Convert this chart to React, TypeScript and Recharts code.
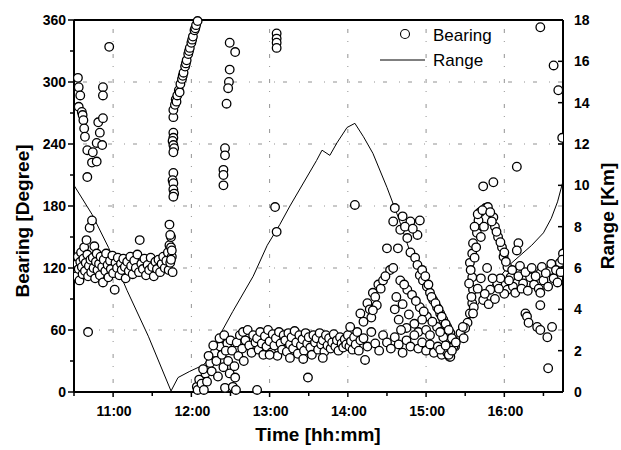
import { ComposedChart, Line, ReferenceLine, Scatter, XAxis, YAxis } from "recharts"

// time in decimal hours, bearing in degrees, range in km
const timeTicks = [10.5, 11, 11.5, 12, 12.5, 13, 13.5, 14, 14.5, 15, 15.5, 16, 16.5]
const timeLabels = ["11:00", "12:00", "13:00", "14:00", "15:00", "16:00"]
const bearingTicks = [0, 30, 60, 90, 120, 150, 180, 210, 240, 270, 300, 330, 360]
const rangeTicks = [0, 1, 2, 3, 4, 5, 6, 7, 8, 9, 10, 11, 12, 13, 14, 15, 16, 17, 18]
const gridBearing = [60, 120, 180, 240, 300]
const gridTimes = [11, 12, 13, 14, 15, 16]

const rangeTimes = [10.5, 10.73, 10.94, 11.18, 11.45, 11.74, 11.83, 11.98, 12.15, 12.28, 12.37, 12.53, 12.79, 12.97, 13.13, 13.26, 13.6, 13.67, 13.77, 13.86, 13.99, 14.09, 14.2, 14.32, 14.5, 14.64, 14.83, 15.14, 15.3, 15.42, 15.55, 15.75, 15.95, 16.08, 16.2, 16.35, 16.5, 16.6, 16.68, 16.75]
const rangeKm = [10.0, 8.6, 7.0, 4.9, 2.7, 0.05, 0.7, 1.0, 1.3, 1.8, 2.8, 3.9, 5.6, 7.1, 8.1, 9.0, 11.2, 11.7, 11.45, 12.05, 12.8, 13.0, 12.35, 11.55, 9.9, 8.5, 6.4, 4.1, 3.1, 2.4, 3.5, 4.8, 5.6, 6.2, 6.6, 7.1, 7.7, 8.4, 9.2, 10.2]

const bearingEarlyBand = [
  [10.51, 118], [10.52, 128], [10.53, 112], [10.54, 124], [10.55, 131], [10.56, 119], [10.57, 108], [10.58, 126], [10.59, 135], [10.6, 121],
  [10.61, 114], [10.62, 129], [10.63, 140], [10.64, 117], [10.65, 125], [10.66, 147], [10.67, 133], [10.68, 112], [10.69, 122], [10.7, 159],
  [10.71, 128], [10.72, 116], [10.73, 166], [10.74, 130], [10.75, 120], [10.76, 141], [10.77, 110], [10.78, 126], [10.79, 134], [10.8, 118],
  [10.82, 124], [10.83, 113], [10.84, 131], [10.86, 121], [10.87, 106], [10.88, 128], [10.9, 117], [10.91, 134], [10.93, 123], [10.94, 111],
  [10.96, 127], [10.97, 119], [10.99, 132], [11.0, 115], [11.02, 99], [11.03, 125], [11.05, 120], [11.06, 130], [11.08, 113], [11.1, 124],
  [11.11, 118], [11.13, 129], [11.15, 121], [11.16, 110], [11.18, 126], [11.2, 117], [11.22, 131], [11.23, 122], [11.25, 114], [11.27, 127],
  [11.29, 120], [11.31, 133], [11.33, 116], [11.34, 147], [11.36, 124], [11.38, 119], [11.4, 129], [11.42, 113], [11.44, 123], [11.46, 118],
  [11.48, 130], [11.5, 121], [11.52, 112], [11.54, 126], [11.56, 119], [11.58, 128], [11.6, 116], [11.62, 124], [11.64, 131], [11.66, 120],
  [11.68, 127], [11.7, 135], [11.71, 118], [11.72, 142], [11.73, 125], [11.74, 150], [11.75, 131],
  [11.72, 162], [11.73, 152], [11.74, 140], [11.75, 137], [11.76, 116], [11.74, 128],
]

const bearingEarlyHigh = [
  [10.55, 304], [10.56, 295], [10.58, 287], [10.56, 276], [10.6, 271], [10.61, 268], [10.62, 263], [10.63, 255], [10.64, 247],
  [10.67, 234], [10.74, 232], [10.73, 222], [10.79, 223], [10.67, 208], [10.81, 261], [10.87, 265], [10.83, 251], [10.79, 241],
  [10.86, 239], [10.87, 295], [10.87, 287], [10.95, 334], [10.68, 58],
]

const bearingClimb = [
  [11.77, 266], [11.77, 251], [11.77, 246], [11.76, 243], [11.77, 239], [11.78, 236], [11.77, 232], [11.77, 212], [11.76, 205],
  [11.77, 202], [11.77, 196], [11.78, 192], [11.77, 189],
  [11.77, 273], [11.79, 278], [11.8, 283], [11.81, 281], [11.82, 287], [11.84, 292], [11.85, 290], [11.86, 298], [11.88, 303],
  [11.89, 306], [11.9, 309], [11.92, 315], [11.93, 318], [11.94, 321], [11.96, 327], [11.97, 330], [11.98, 333], [12.0, 338],
  [12.01, 341], [12.02, 344], [12.04, 350], [12.05, 352], [12.06, 355], [12.08, 359],
]

const bearingColumns = [
  [12.49, 338], [12.56, 329], [12.49, 312], [12.48, 300], [12.47, 294], [12.45, 279], [12.43, 236], [12.43, 229], [12.41, 215],
  [12.41, 210], [12.41, 200],
  [13.09, 347], [13.09, 342], [13.09, 338], [13.09, 333], [13.07, 179], [13.09, 155],
  [13.49, 14], [14.09, 181], [14.6, 178],
]

const bearingMidBand = [
  [12.07, 5], [12.1, 12], [12.18, 18], [12.24, 28], [12.3, 38], [12.37, 44], [12.46, 47], [12.41, 24], [12.49, 18], [12.56, 14],
  [12.43, 4], [12.53, 5], [12.84, 2], [12.08, 2], [12.13, 8], [12.15, 22], [12.2, 10], [12.22, 35], [12.26, 20], [12.28, 45],
  [12.32, 30], [12.34, 15], [12.36, 52], [12.39, 36], [12.42, 55], [12.44, 40], [12.47, 30], [12.5, 50], [12.52, 40], [12.55, 25],
  [12.58, 48], [12.6, 35], [12.62, 55], [12.65, 42], [12.66, 58], [12.67, 30], [12.69, 50], [12.72, 60], [12.74, 45], [12.77, 38],
  [12.79, 55], [12.82, 48], [12.16, 2], [12.57, 2],
  [12.84, 52], [12.86, 41], [12.88, 58], [12.9, 47], [12.92, 36], [12.94, 54], [12.96, 44], [12.98, 60], [13.0, 49], [13.02, 38],
  [13.04, 56], [13.06, 45], [13.08, 52], [13.1, 35], [13.12, 58], [13.14, 47], [13.16, 41], [13.18, 55], [13.2, 50], [13.22, 39],
  [13.24, 57], [13.26, 46], [13.28, 53], [13.3, 42], [13.32, 59], [13.34, 48], [13.36, 37], [13.38, 55], [13.4, 45], [13.42, 51],
  [13.44, 40], [13.46, 57], [13.48, 47], [13.5, 53], [13.52, 43], [13.54, 36], [13.56, 55], [13.58, 48], [13.6, 52], [13.62, 41],
  [13.64, 57], [13.66, 46], [13.68, 50], [13.7, 39], [13.72, 55], [13.74, 45], [13.76, 52], [13.78, 42], [13.8, 48], [13.82, 56],
  [13.84, 44], [13.86, 50], [13.88, 40], [13.9, 53], [13.92, 47], [13.94, 43], [13.96, 51], [13.98, 46], [14.0, 55], [14.02, 44],
  [14.04, 49], [14.06, 41], [14.08, 53], [14.1, 46], [14.12, 58], [14.14, 40], [14.16, 50],
  [13.26, 33], [13.43, 32], [13.68, 33], [14.22, 31], [13.0, 36],
]

const bearingLoop = [
  [14.58, 165], [14.8, 165], [14.92, 166], [14.67, 157], [14.89, 152], [14.76, 149], [14.5, 139], [14.64, 139], [14.8, 135],
  [14.86, 130], [14.89, 123], [14.92, 113], [14.96, 108], [15.01, 102], [15.05, 96], [15.09, 89], [15.14, 82], [15.18, 76],
  [15.22, 70], [15.27, 63], [15.31, 57], [15.35, 50], [15.37, 44],
  [14.7, 170], [14.73, 160], [14.83, 158], [14.95, 118], [14.99, 112], [15.03, 104], [15.07, 92], [15.12, 86], [15.16, 80],
  [15.2, 73], [15.25, 66], [15.29, 60], [15.33, 52],
  [14.03, 63], [14.16, 76], [14.25, 86], [14.32, 96], [14.39, 104], [14.45, 108], [14.54, 118], [14.58, 120], [14.2, 68],
  [14.28, 80], [14.35, 92], [14.42, 100], [14.48, 112], [14.37, 84], [14.3, 72], [14.32, 79],
  [14.67, 108], [14.76, 99], [14.82, 94], [14.92, 82], [15.01, 73], [15.14, 63], [15.22, 53], [14.72, 104], [14.87, 88],
  [14.97, 78], [15.08, 68], [15.18, 58],
  [14.6, 80], [14.65, 70], [14.7, 85], [14.75, 62], [14.78, 75], [14.85, 66], [14.9, 58], [14.95, 70], [15.0, 60], [15.05, 55],
  [14.62, 92], [14.68, 60],
  [14.2, 52], [14.25, 44], [14.3, 58], [14.35, 47], [14.4, 40], [14.45, 55], [14.5, 48], [14.55, 42], [14.6, 53], [14.65, 46],
  [14.7, 38], [14.75, 50], [14.8, 44], [14.85, 55], [14.9, 42], [14.95, 48], [15.0, 40], [15.05, 46], [15.1, 38], [15.15, 44],
  [15.2, 36], [15.25, 42], [15.3, 34],
]

const bearingLate = [
  [15.27, 38], [15.35, 44], [15.18, 41], [15.31, 34], [15.29, 36], [15.33, 40], [15.25, 45], [15.38, 48],
  [15.44, 57], [15.53, 67], [15.56, 76], [15.59, 86], [15.6, 99], [15.59, 111], [15.56, 125], [15.59, 134], [15.6, 144],
  [15.65, 154], [15.67, 166], [15.69, 174], [15.76, 178], [15.79, 179], [15.86, 169], [15.88, 160], [15.92, 150], [15.97, 140],
  [15.99, 131], [16.04, 121], [16.08, 111],
  [15.62, 160], [15.66, 172], [15.72, 176], [15.82, 174], [15.84, 165], [15.9, 155], [15.95, 145], [16.0, 135], [16.02, 126],
  [15.55, 105], [15.57, 118], [15.62, 130], [15.64, 140], [15.7, 150], [15.74, 160], [15.5, 62], [15.48, 52], [15.58, 92], [15.61, 82],
  [15.47, 63], [15.6, 76], [15.73, 89], [15.82, 99], [15.91, 105], [16.04, 99], [16.11, 102], [16.24, 105], [16.33, 111],
  [16.46, 115], [16.59, 118], [16.71, 125], [16.75, 134],
  [15.95, 110], [16.0, 95], [16.06, 108], [16.1, 118], [16.14, 96], [16.18, 112], [16.2, 122], [16.22, 100], [16.27, 116],
  [16.3, 98], [16.35, 120], [16.38, 104], [16.4, 112], [16.44, 100], [16.48, 121], [16.5, 108], [16.53, 115], [16.56, 102],
  [16.6, 124], [16.63, 110], [16.66, 118], [16.68, 106], [16.72, 116], [16.74, 128], [15.75, 95], [15.8, 85], [15.85, 110],
  [15.88, 90], [15.93, 100], [15.78, 120], [15.7, 110], [15.66, 100],
  [16.27, 76], [16.29, 73], [16.31, 67], [16.42, 63], [16.46, 60], [16.55, 53], [16.61, 63], [16.46, 84], [16.46, 96],
  [16.18, 144], [16.16, 137], [16.56, 23], [16.46, 353], [16.63, 316], [16.69, 292], [16.74, 246], [16.16, 218], [15.86, 203], [15.73, 199],
]

const bearingData = [
  ...bearingEarlyBand, ...bearingEarlyHigh, ...bearingClimb, ...bearingColumns,
  ...bearingMidBand, ...bearingLoop, ...bearingLate,
].map(([t, deg]) => ({ t, deg }))

const rangeData = rangeTimes.map((t, i) => ({ t, km: rangeKm[i] }))

const FONT = "'Liberation Sans', Arial, sans-serif"

const TimeTick = ({ x, y, payload }: any) => {
  const major = Number.isInteger(payload.value)
  const label = major ? timeLabels[payload.value - 11] : ""
  return (
    <g>
      <line x1={x} y1={y} x2={x} y2={y + (major ? 5 : 4)} stroke="#000" strokeWidth={1.5} />
      {label && (
        <text x={x + 1} y={y + 24} textAnchor="middle" fontFamily={FONT} fontWeight="bold" fontSize={14} fill="#000">
          {label}
        </text>
      )}
    </g>
  )
}

const BearingTick = ({ x, y, payload }: any) => {
  const major = payload.value % 60 === 0
  return (
    <g>
      <line x1={x} y1={y} x2={x - (major ? 6 : 4)} y2={y} stroke="#000" strokeWidth={1.5} />
      {major && (
        <text x={x - 8} y={y + 5} textAnchor="end" fontFamily={FONT} fontWeight="bold" fontSize={14} fill="#000">
          {payload.value}
        </text>
      )}
    </g>
  )
}

const RangeTick = ({ x, y, payload }: any) => {
  const major = payload.value % 2 === 0
  return (
    <g>
      <line x1={x} y1={y} x2={x - 5} y2={y} stroke="#000" strokeWidth={1.5} />
      {major && (
        <text x={x + 11} y={y + 5} textAnchor="start" fontFamily={FONT} fontWeight="bold" fontSize={14} fill="#000">
          {payload.value}
        </text>
      )}
    </g>
  )
}

const Ring = ({ cx, cy }: any) => (
  <circle cx={cx} cy={cy} r={4.3} fill="#fff" stroke="#000" strokeWidth={1.3} />
)

export default function App() {
  return (
    <div style={{ position: "absolute", left: 0, top: 0, width: 621, height: 450, background: "#fff" }}>
      <ComposedChart width={621} height={450} margin={{ top: 20, right: 18, bottom: 8, left: 14 }}>
        <XAxis
          type="number"
          dataKey="t"
          domain={[10.5, 16.75]}
          ticks={timeTicks}
          allowDataOverflow
          height={50}
          tickSize={0}
          tickMargin={0}
          tickLine={false}
          tick={<TimeTick />}
          axisLine={{ stroke: "#000", strokeWidth: 2 }}
        />
        <YAxis
          yAxisId="left"
          type="number"
          domain={[0, 360]}
          ticks={bearingTicks}
          width={60}
          tickSize={0}
          tickMargin={0}
          tickLine={false}
          tick={<BearingTick />}
          axisLine={{ stroke: "#000", strokeWidth: 2 }}
        />
        <YAxis
          yAxisId="right"
          orientation="right"
          type="number"
          domain={[0, 18]}
          ticks={rangeTicks}
          width={40}
          tickSize={0}
          tickMargin={0}
          tickLine={false}
          tick={<RangeTick />}
          axisLine={{ stroke: "#000", strokeWidth: 2 }}
        />

        {/* sparse dash-dot grid */}
        {gridBearing.map((v) => (
          <ReferenceLine key={`gy${v}`} yAxisId="left" y={v} stroke="#777" strokeWidth={0.8} strokeDasharray="1 8 4 12" />
        ))}
        {gridTimes.map((v) => (
          <ReferenceLine key={`gx${v}`} yAxisId="left" x={v} stroke="#777" strokeWidth={0.8} strokeDasharray="1 8 4 12" />
        ))}
        <ReferenceLine yAxisId="left" y={360} stroke="#000" strokeWidth={2} />

        <Line
          data={rangeData}
          yAxisId="right"
          dataKey="km"
          type="linear"
          stroke="#000"
          strokeWidth={1}
          dot={false}
          isAnimationActive={false}
        />
        <Scatter
          data={bearingData}
          yAxisId="left"
          dataKey="deg"
          shape={<Ring />}
          isAnimationActive={false}
        />
      </ComposedChart>

      <svg width={621} height={450} style={{ position: "absolute", left: 0, top: 0, pointerEvents: "none" }}>
        <text x={318} y={441} textAnchor="middle" fontFamily={FONT} fontWeight="bold" fontSize={19}>
          Time [hh:mm]
        </text>
        <text
          x={0}
          y={0}
          transform="translate(29 221) rotate(-90)"
          textAnchor="middle"
          fontFamily={FONT}
          fontWeight="bold"
          fontSize={19}
        >
          Bearing [Degree]
        </text>
        <text
          x={0}
          y={0}
          transform="translate(614 216) rotate(-90)"
          textAnchor="middle"
          fontFamily={FONT}
          fontWeight="bold"
          fontSize={19}
        >
          Range [Km]
        </text>

        <circle cx={405} cy={34} r={4.5} fill="#fff" stroke="#000" strokeWidth={1.1} />
        <text x={433} y={41} fontFamily={FONT} fontSize={17}>Bearing</text>
        <line x1={380} y1={60} x2={425} y2={60} stroke="#000" strokeWidth={1} />
        <text x={433} y={66} fontFamily={FONT} fontSize={17}>Range</text>
      </svg>
    </div>
  )
}
